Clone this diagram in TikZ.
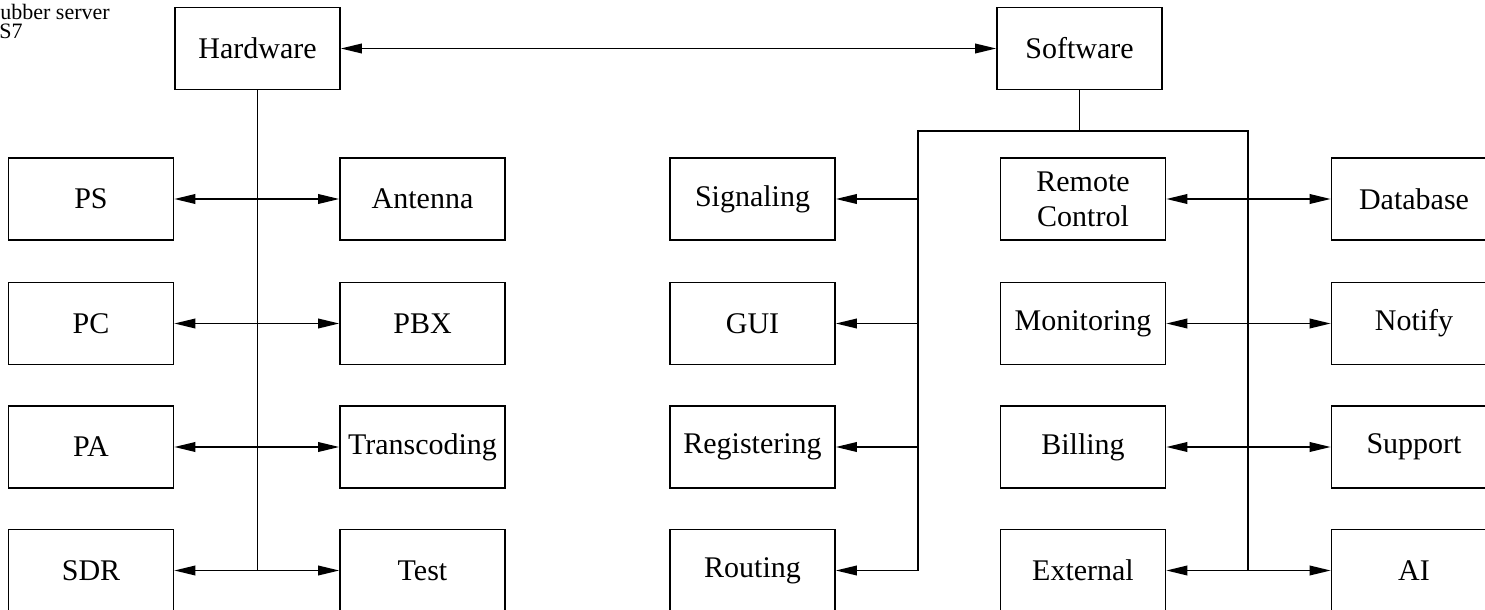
\documentclass[tikz,border=0pt]{standalone}
\usepackage{fontspec}
\setmainfont{Liberation Serif}
\usetikzlibrary{arrows.meta}
\begin{document}
\begin{tikzpicture}[x=0.5pt,y=-0.5pt,
  box/.style={draw, line width=0.8pt, minimum width=82.5pt, minimum height=41pt,
    inner sep=2pt, align=center, font=\fontsize{15}{17.5}\selectfont},
  link/.style={line width=0.8pt},
  arr/.style={link, -{Triangle[length=10.5pt,width=4.8pt]}},
  dbl/.style={link, {Triangle[length=10.5pt,width=4.8pt]}-{Triangle[length=10.5pt,width=4.8pt]}},
  note/.style={anchor=base west, inner sep=0pt, font=\fontsize{11}{13}\selectfont}]
\useasboundingbox (0,0) rectangle (1485,610);
\clip (0,0) rectangle (1485,610);

% side note
\node[note] (n1) at (0,20) {ubber server};
\node[note] (n2) at (-1,39) {S7};

% top level
\node[box] (hw) at (257.5,48.5) {Hardware};
\node[box] (sw) at (1079.5,48.5) {Software};

% row 1
\node[box] (ps)   at (91,199)   {PS};
\node[box] (ant)  at (422.5,199) {Antenna};
\node[box] (sig)  at (752.5,199) {Signaling};
\node[box] (rc)   at (1083,199) {Remote\\Control};
\node[box] (db)   at (1414,199) {Database};
% row 2
\node[box] (pc)   at (91,323.5)   {PC};
\node[box] (pbx)  at (422.5,323.5) {PBX};
\node[box] (gui)  at (752.5,323.5) {GUI};
\node[box] (mon)  at (1083,323.5) {Monitoring};
\node[box] (ntf)  at (1414,323.5) {Notify};
% row 3
\node[box] (pa)   at (91,447)   {PA};
\node[box] (trc)  at (422.5,447) {Transcoding};
\node[box] (reg)  at (752.5,447) {Registering};
\node[box] (bil)  at (1083,447) {Billing};
\node[box] (sup)  at (1414,447) {Support};
% row 4
\node[box] (sdr)  at (91,570.5)   {SDR};
\node[box] (tst)  at (422.5,570.5) {Test};
\node[box] (rtg)  at (752.5,570.5) {Routing};
\node[box] (ext)  at (1083,570.5) {External};
\node[box] (ai)   at (1414,570.5) {AI};

% hardware / software link
\draw[dbl] (hw.east) -- (sw.west);

% hardware tree
\draw[link] (hw.south) -- (hw.south |- sdr.east);
\draw[dbl] (ps.east) -- (ant.west);
\draw[dbl] (pc.east) -- (pbx.west);
\draw[dbl] (pa.east) -- (trc.west);
\draw[dbl] (sdr.east) -- (tst.west);

% software tree
\coordinate (busL) at (918,131);
\coordinate (busR) at (1248,131);
\draw[link] (sw.south) -- (sw.south |- busL);
\draw[link] (busL |- rtg.east) -- (busL) -- (busR) -- (busR |- ext.east);
\draw[arr] (busL |- sig.east) -- (sig.east);
\draw[arr] (busL |- gui.east) -- (gui.east);
\draw[arr] (busL |- reg.east) -- (reg.east);
\draw[arr] (busL |- rtg.east) -- (rtg.east);
\draw[dbl] (rc.east) -- (db.west);
\draw[dbl] (mon.east) -- (ntf.west);
\draw[dbl] (bil.east) -- (sup.west);
\draw[dbl] (ext.east) -- (ai.west);
\end{tikzpicture}
\end{document}
